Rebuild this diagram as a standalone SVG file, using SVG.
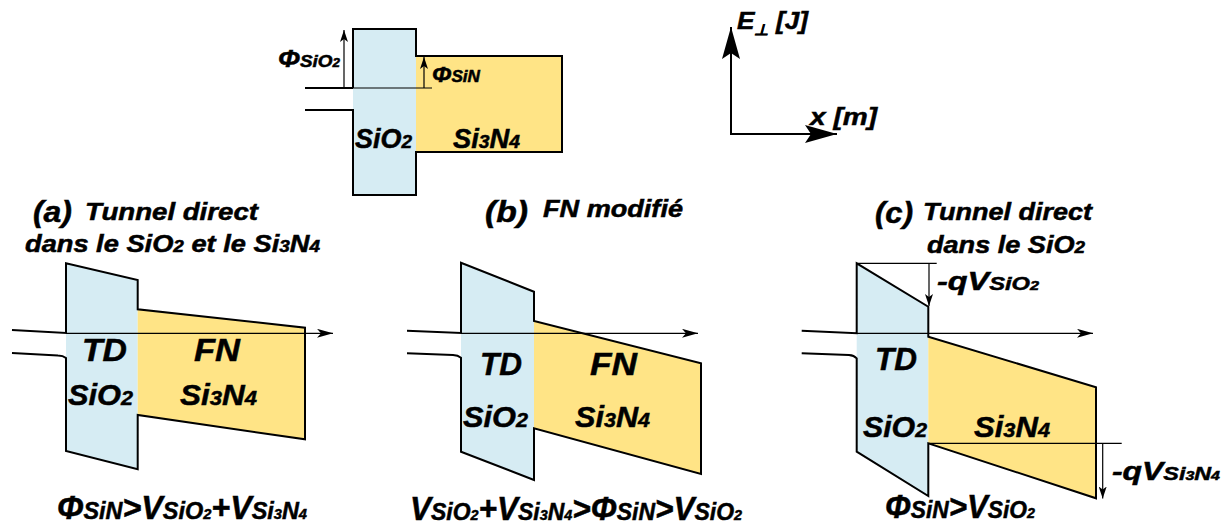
<svg xmlns="http://www.w3.org/2000/svg" width="1231" height="529" viewBox="0 0 1231 529">
<style>
.t{font-family:"Liberation Sans",Arial,sans-serif;font-weight:bold;font-style:italic;fill:#000;stroke:#000;stroke-width:0.5px}
.ox{fill:#d6ecf3}
.ni{fill:#ffe486}
.ol{fill:none;stroke:#000;stroke-width:2;stroke-linejoin:miter}
.thin{fill:none;stroke:#000;stroke-width:1.2}
.ax{fill:none;stroke:#000;stroke-width:2}
.s{font-size:24px}.d{font-size:15px}
.ps{font-size:30px}.pd{font-size:21px}
</style>
<defs>
<marker id="ah" viewBox="0 0 16 9" refX="16" refY="4.5" markerWidth="16" markerHeight="9" markerUnits="userSpaceOnUse" orient="auto">
<path d="M0,0 L16,4.5 L0,9 L4,4.5 z" fill="#000"/>
</marker>
<marker id="ahs" viewBox="0 0 12 8" refX="12" refY="4" markerWidth="12" markerHeight="8" markerUnits="userSpaceOnUse" orient="auto">
<path d="M0,0 L12,4 L0,8 L3,4 z" fill="#000"/>
</marker>
<marker id="ahb" viewBox="0 0 32 18" refX="32" refY="9" markerWidth="32" markerHeight="18" markerUnits="userSpaceOnUse" orient="auto">
<path d="M0,0 L32,9 L0,18 L6,9 z" fill="#000"/>
</marker>
</defs>

<g id="top-diagram">
<rect class="ox" x="353" y="29" width="63" height="166"/>
<rect class="ni" x="416" y="56" width="146" height="96"/>
<path class="ol" d="M353,88 L353,29 L416,29 L416,56 L562,56 L562,152 L416,152 L416,195 L353,195 L353,110 L305,110"/>
<path class="ol" d="M305,88 L353,88"/>
<path class="thin" d="M353,88 L432,88"/>
<text class="t" x="355" y="148" textLength="57" lengthAdjust="spacingAndGlyphs" font-size="27">SiO<tspan font-size="19">2</tspan></text>
<text class="t" x="453" y="148" textLength="67" lengthAdjust="spacingAndGlyphs" font-size="27">Si<tspan font-size="19">3</tspan>N<tspan font-size="19">4</tspan></text>
</g>

<g id="axes">
<text class="t" x="737" y="29" textLength="71" lengthAdjust="spacingAndGlyphs" font-size="24">E<tspan font-size="15" dy="6">⊥</tspan><tspan dy="-6"> [J]</tspan></text>
<text class="t" x="810" y="125" textLength="67" lengthAdjust="spacingAndGlyphs" font-size="24">x [m]</text>
</g>

<g id="panel-a">
<polygon class="ox" points="66,263.3 137.7,280 137.7,469.3 66,451"/>
<polygon class="ni" points="137.7,309.3 305,327.7 305,439.3 137.7,415"/>
<path class="ol" d="M12,330 L66,333 L66,263.3 L137.7,280 L137.7,309.3 L305,327.7 L305,439.3 L137.7,415 L137.7,469.3 L66,451 L66,358 Q63,355.6 58,355.5 L12,353"/>
<text class="t" x="33" y="222" textLength="39" lengthAdjust="spacingAndGlyphs" font-size="29">(a)</text>
<text class="t" x="85" y="220" textLength="173" lengthAdjust="spacingAndGlyphs" font-size="23">Tunnel direct</text>
<text class="t" x="25" y="252" textLength="295" lengthAdjust="spacingAndGlyphs" font-size="23">dans le SiO<tspan font-size="16">2</tspan> et le Si<tspan font-size="16">3</tspan>N<tspan font-size="16">4</tspan></text>
<text class="t" x="82" y="361" textLength="45" lengthAdjust="spacingAndGlyphs" font-size="32">TD</text>
<text class="t" x="194" y="361" textLength="46" lengthAdjust="spacingAndGlyphs" font-size="32">FN</text>
<text class="t ps" x="68" y="405" textLength="65" lengthAdjust="spacingAndGlyphs">SiO<tspan class="pd">2</tspan></text>
<text class="t ps" x="180" y="405" textLength="77" lengthAdjust="spacingAndGlyphs">Si<tspan class="pd">3</tspan>N<tspan class="pd">4</tspan></text>
<text class="t" x="57" y="519" textLength="250" lengthAdjust="spacingAndGlyphs" font-size="33">Φ<tspan class="s">SiN</tspan>&gt;V<tspan class="s">SiO<tspan class="d">2</tspan></tspan>+V<tspan class="s">Si<tspan class="d">3</tspan>N<tspan class="d">4</tspan></tspan></text>
</g>

<g id="panel-b">
<polygon class="ox" points="461,262.7 534,291.7 534,480 461,451.7"/>
<polygon class="ni" points="534,321 701,363.3 701,474 534,428.3"/>
<path class="ol" d="M407,330.7 L461,333 L461,262.7 L534,291.7 L534,321 L701,363.3 L701,474 L534,428.3 L534,480 L461,451.7 L461,357.7 Q458,355.2 453,355 L407,353.3"/>
<text class="t" x="485" y="222" textLength="43" lengthAdjust="spacingAndGlyphs" font-size="29">(b)</text>
<text class="t" x="543" y="217" textLength="140" lengthAdjust="spacingAndGlyphs" font-size="23">FN modifié</text>
<text class="t" x="480" y="375" textLength="42" lengthAdjust="spacingAndGlyphs" font-size="32">TD</text>
<text class="t" x="590" y="375" textLength="47" lengthAdjust="spacingAndGlyphs" font-size="32">FN</text>
<text class="t ps" x="463" y="427" textLength="65" lengthAdjust="spacingAndGlyphs">SiO<tspan class="pd">2</tspan></text>
<text class="t ps" x="575" y="427" textLength="75" lengthAdjust="spacingAndGlyphs">Si<tspan class="pd">3</tspan>N<tspan class="pd">4</tspan></text>
<text class="t" x="410" y="520" textLength="332" lengthAdjust="spacingAndGlyphs" font-size="33">V<tspan class="s">SiO<tspan class="d">2</tspan></tspan>+V<tspan class="s">Si<tspan class="d">3</tspan>N<tspan class="d">4</tspan></tspan>&gt;Φ<tspan class="s">SiN</tspan>&gt;V<tspan class="s">SiO<tspan class="d">2</tspan></tspan></text>
</g>

<g id="panel-c">
<polygon class="ox" points="856.7,263.3 928.3,306.7 928.3,496 856.7,451.7"/>
<polygon class="ni" points="928.3,336.7 1096,387.3 1096,498.3 928.3,443.3"/>
<path class="ol" d="M801.7,330.7 L856.7,333.3 L856.7,263.3 L928.3,306.7 L928.3,336.7 L1096,387.3 L1096,498.3 L928.3,443.3 L928.3,496 L856.7,451.7 L856.7,358.3 Q854,355.3 849,355 L801.7,353.3"/>
<text class="t" x="875" y="223" textLength="38" lengthAdjust="spacingAndGlyphs" font-size="29">(c)</text>
<text class="t" x="923" y="220" textLength="169" lengthAdjust="spacingAndGlyphs" font-size="23">Tunnel direct</text>
<text class="t" x="927" y="253" textLength="158" lengthAdjust="spacingAndGlyphs" font-size="23">dans le SiO<tspan font-size="16">2</tspan></text>
<text class="t" x="875" y="370" textLength="42" lengthAdjust="spacingAndGlyphs" font-size="32">TD</text>
<text class="t ps" x="863" y="437" textLength="64" lengthAdjust="spacingAndGlyphs">SiO<tspan class="pd">2</tspan></text>
<text class="t ps" x="974" y="437" textLength="76" lengthAdjust="spacingAndGlyphs">Si<tspan class="pd">3</tspan>N<tspan class="pd">4</tspan></text>
<text class="t" x="937" y="290" textLength="102" lengthAdjust="spacingAndGlyphs" font-size="26">-qV<tspan font-size="19">SiO<tspan font-size="13">2</tspan></tspan></text>
<text class="t" x="1112" y="480" textLength="108" lengthAdjust="spacingAndGlyphs" font-size="26">-qV<tspan font-size="19">Si<tspan font-size="13">3</tspan>N<tspan font-size="13">4</tspan></tspan></text>
<text class="t" x="885" y="518" textLength="150" lengthAdjust="spacingAndGlyphs" font-size="33">Φ<tspan class="s">SiN</tspan>&gt;V<tspan class="s">SiO<tspan class="d">2</tspan></tspan></text>
</g>

<g id="labels-phi">
<text class="t" x="278" y="67" textLength="62" lengthAdjust="spacingAndGlyphs" font-size="24">Φ<tspan font-size="17">SiO<tspan font-size="12">2</tspan></tspan></text>
<text class="t" x="432" y="82" textLength="48" lengthAdjust="spacingAndGlyphs" font-size="22">Φ<tspan font-size="16">SiN</tspan></text>
</g>

<g id="connectors">
<path class="thin" d="M344,88 L344,30" marker-end="url(#ahs)"/>
<path class="thin" d="M424,88 L424,57" marker-end="url(#ahs)"/>
<path class="ax" d="M731,134 L731,27" marker-end="url(#ahb)"/>
<path class="ax" d="M730,134 L837,134" marker-end="url(#ahb)"/>
<path class="thin" d="M66,333.3 L333,333.3" marker-end="url(#ah)"/>
<path class="thin" d="M461,333.3 L698,333.3" marker-end="url(#ah)"/>
<path class="thin" d="M856.7,333.3 L1093,333.3" marker-end="url(#ah)"/>
<path class="thin" d="M856.7,263.3 L936.7,263.3"/>
<path class="thin" d="M929,263.3 L929,306" marker-end="url(#ahs)"/>
<path class="thin" d="M928.3,443.3 L1121.7,443.3"/>
<path class="thin" d="M1102.7,443.3 L1102.7,498.5" marker-end="url(#ahs)"/>
</g>
</svg>
